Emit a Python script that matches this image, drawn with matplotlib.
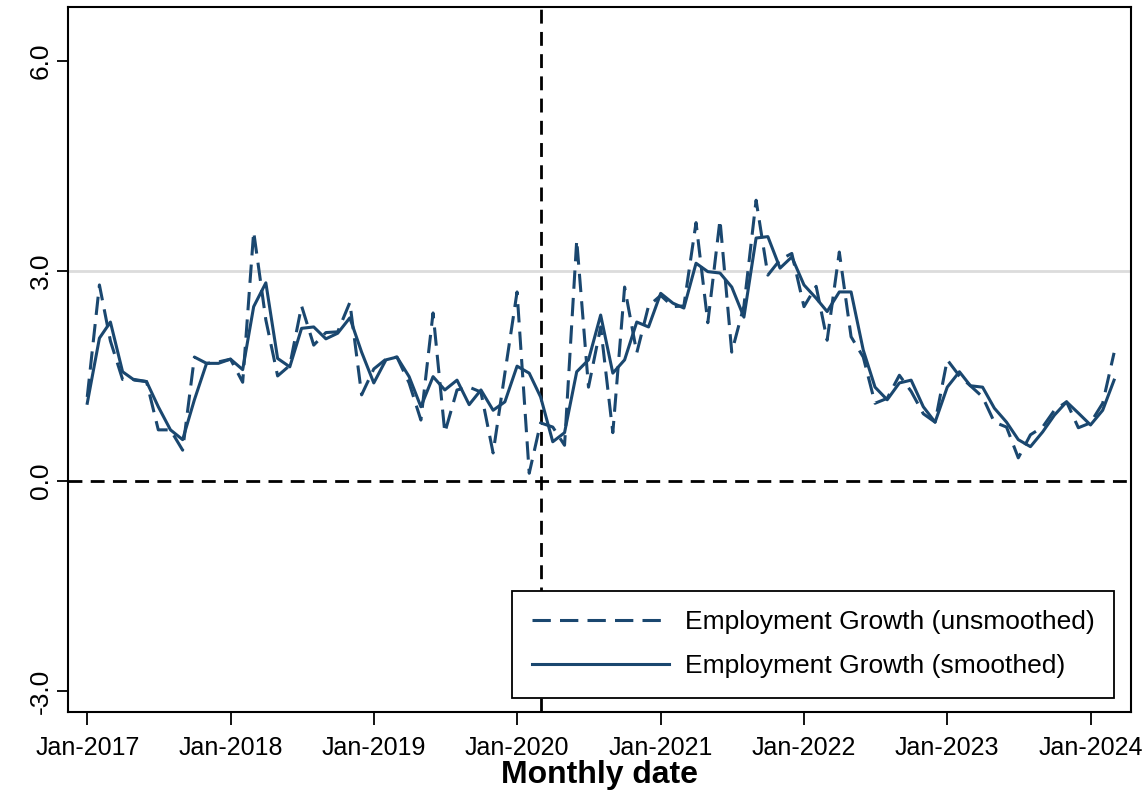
import matplotlib
matplotlib.use("Agg")
import matplotlib.pyplot as plt
import matplotlib.dates as mdates
import numpy as np
import pandas as pd

plt.rcParams["font.family"] = ["Liberation Sans", "DejaVu Sans"]

# monthly values, Jan-2017 .. Mar-2024
unsmoothed = [
    1.20, 2.80, 2.00, 1.45, 1.45, 1.42, 0.73, 0.73, 0.44, 1.77, 1.68, 1.70,
    1.74, 1.41, 3.56, 2.30, 1.50, 1.65, 2.50, 1.94, 2.12, 2.13, 2.55, 1.23,
    1.60, 1.74, 1.77, 1.40, 0.87, 2.40, 0.69, 1.30, 1.34, 1.27, 0.40, 1.54,
    2.70, 0.11, 0.83, 0.77, 0.51, 3.44, 1.34, 2.20, 0.69, 2.77, 1.83, 2.50,
    2.65, 2.49, 2.50, 3.69, 2.26, 3.73, 1.84, 2.50, 4.01, 2.94, 3.16, 3.25,
    2.49, 2.78, 2.01, 3.27, 2.06, 1.77, 1.11, 1.18, 1.51, 1.28, 0.96, 0.84,
    1.73, 1.50, 1.36, 1.20, 0.84, 0.77, 0.33, 0.66, 0.77, 1.01, 1.13, 0.76,
    0.83, 1.11, 1.83,
]
smoothed = [
    1.11, 2.04, 2.27, 1.56, 1.44, 1.42, 1.06, 0.73, 0.59, 1.16, 1.68, 1.68,
    1.74, 1.59, 2.49, 2.83, 1.75, 1.63, 2.18, 2.20, 2.03, 2.11, 2.33, 1.84,
    1.40, 1.73, 1.77, 1.49, 1.06, 1.49, 1.30, 1.44, 1.09, 1.30, 1.01, 1.13,
    1.64, 1.54, 1.20, 0.56, 0.69, 1.56, 1.73, 2.37, 1.54, 1.73, 2.27, 2.20,
    2.68, 2.54, 2.47, 3.11, 2.99, 2.97, 2.77, 2.34, 3.47, 3.49, 3.04, 3.20,
    2.80, 2.61, 2.42, 2.70, 2.70, 1.87, 1.34, 1.16, 1.40, 1.44, 1.06, 0.84,
    1.34, 1.56, 1.36, 1.34, 1.04, 0.84, 0.59, 0.49, 0.70, 0.94, 1.13, 0.97,
    0.80, 1.01, 1.44,
]
dates = pd.date_range("2017-01-01", periods=len(smoothed), freq="MS")
tick_dates = pd.date_range("2017-01-01", "2024-01-01", freq="YS")
y_ticks = [-3.0, 0.0, 3.0, 6.0]
covid_date = pd.Timestamp("2020-03-01")
target_line = 3.0

line_color = "#1a476f"

fig = plt.figure(figsize=(11.47, 7.95), dpi=100)
ax = fig.add_axes([0.0593, 0.1044, 0.9267, 0.8868])

ax.axhline(target_line, color="#dcdcdc", linewidth=2, zorder=1)
ax.axhline(0, color="black", linestyle=(0, (5, 3)), linewidth=2, zorder=2)
ax.axvline(covid_date, color="black", linestyle=(0, (5, 3)), linewidth=2, zorder=2)

ax.plot(dates, unsmoothed, color=line_color, linewidth=2.2, linestyle=(0, (6, 3)),
        label="Employment Growth (unsmoothed)", zorder=3)
ax.plot(dates, smoothed, color=line_color, linewidth=2.2,
        label="Employment Growth (smoothed)", zorder=4)

ax.set_ylim(-3.3, 6.77)
ax.set_xlim(pd.Timestamp("2016-11-13"), pd.Timestamp("2024-04-13"))
ax.set_yticks(y_ticks)
ax.set_yticklabels([f"{v:.1f}" for v in y_ticks], rotation=90, va="center", fontsize=19)
ax.set_xticks(tick_dates)
ax.xaxis.set_major_formatter(mdates.DateFormatter("%b-%Y"))
ax.tick_params(axis="x", labelsize=18, length=9, width=1.3, pad=8)
ax.tick_params(axis="y", length=8, width=1.3, pad=3)
for s in ax.spines.values():
    s.set_linewidth(1.5)

ax.set_xlabel("Monthly date", fontsize=23, fontweight="bold", labelpad=0)

leg = ax.legend(loc="lower right", bbox_to_anchor=(0.9845, 0.02), fontsize=19,
                frameon=True, fancybox=False, handlelength=5.2, borderpad=0.75,
                labelspacing=0.75, handletextpad=0.6, borderaxespad=0.0)
leg.get_frame().set_edgecolor("black")
leg.get_frame().set_linewidth(1.3)
leg.get_frame().set_alpha(1)

fig.savefig("out.png", dpi=100)
